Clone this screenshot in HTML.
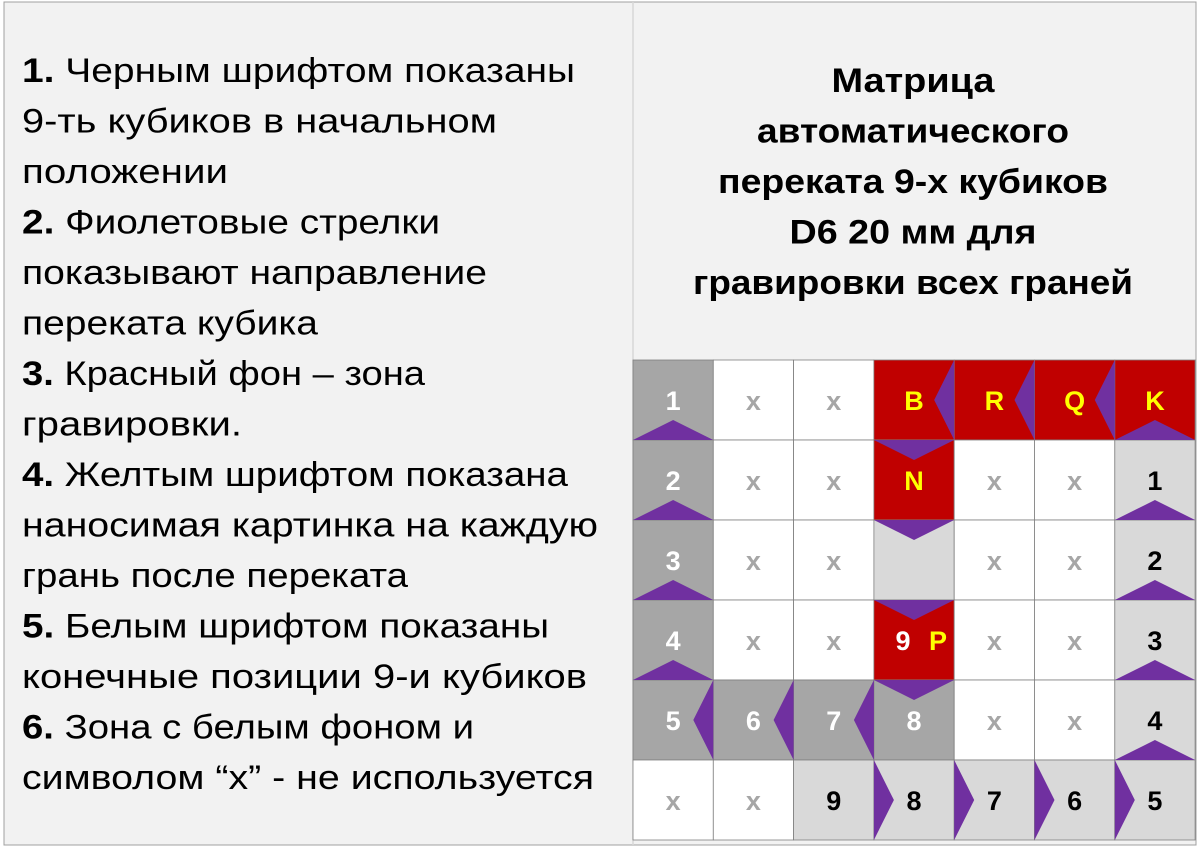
<!DOCTYPE html>
<html><head><meta charset="utf-8">
<style>
html,body{margin:0;padding:0;background:#fff;}
svg{display:block;}
text{font-family:"Liberation Sans",sans-serif;}
</style></head>
<body>
<svg width="1200" height="849" viewBox="0 0 1200 849" xmlns="http://www.w3.org/2000/svg">
<rect x="0" y="0" width="1200" height="849" fill="#ffffff"/>
<rect x="4" y="2" width="1192" height="843" fill="#f2f2f2" stroke="#a0a0a0" stroke-width="1"/>
<line x1="633" y1="2" x2="633" y2="845" stroke="#d8d8d8" stroke-width="1.5"/>
<g id="legend" font-size="34" fill="#000"></g>
<g id="title" font-size="34" font-weight="bold" fill="#000" text-anchor="middle"></g>
<g id="grid"></g>
</svg>
<script>
const NS="http://www.w3.org/2000/svg";
const legendLines=[["1.","Черным шрифтом показаны",575],["","9-ть  кубиков в начальном",497],["","положении",228],["2.","Фиолетовые стрелки",440],["","показывают направление",487],["","переката кубика",318],["3.","Красный фон – зона",425],["","гравировки.",242],["4.","Желтым шрифтом показана",568],["","наносимая картинка на каждую",598],["","грань после переката",408],["5.","Белым шрифтом показаны",549],["","конечные позиции 9-и кубиков",587],["6.","Зона с белым фоном и",474],["","символом “x” - не используется",594]];
const titleLines=[["Матрица",163],["автоматического",312],["переката 9-х кубиков",390],["D6 20 мм для",247],["гравировки всех граней",440]];
const cellFill=[["d","w","w","r","r","r","r"],["d","w","w","r","w","w","l"],["d","w","w","l","w","w","l"],["d","w","w","r","w","w","l"],["d","d","d","d","w","w","l"],["w","w","l","l","l","l","l"]];
const cellText=[["1","x","x","B","R","Q","K"],["2","x","x","N","x","x","1"],["3","x","x","","x","x","2"],["4","x","x","9P","x","x","3"],["5","6","7","8","x","x","4"],["x","x","9","8","7","6","5"]];
const arrows=[[0,0,"u"],[1,0,"u"],[2,0,"u"],[3,0,"u"],[0,6,"u"],[1,6,"u"],[2,6,"u"],[3,6,"u"],[4,6,"u"],[0,3,"l"],[0,4,"l"],[0,5,"l"],[4,0,"l"],[4,1,"l"],[4,2,"l"],[1,3,"d"],[2,3,"d"],[3,3,"d"],[4,3,"d"],[5,3,"r"],[5,4,"r"],[5,5,"r"],[5,6,"r"]];
const X0=633,Y0=360,CW=80.3,CH=80;
const fills={d:"#a6a6a6",l:"#d9d9d9",w:"#ffffff",r:"#c00000"};
const leg=document.getElementById('legend');
legendLines.forEach((ln,i)=>{
  const t=document.createElementNS(NS,'text');
  
  
  t.setAttribute('x',22);t.setAttribute('y',82+i*50.5);
  t.setAttribute('textLength',ln[2]-22);t.setAttribute('lengthAdjust','spacingAndGlyphs');
  if(ln[0]){const b=document.createElementNS(NS,'tspan');b.setAttribute('font-weight','bold');b.textContent=ln[0]+' ';t.appendChild(b);}
  t.appendChild(document.createTextNode(ln[1]));
  leg.appendChild(t);
});
const tg=document.getElementById('title');
titleLines.forEach((ln,i)=>{
  const t=document.createElementNS(NS,'text');
  
  
  t.setAttribute('x',913);t.setAttribute('y',92+i*50.5);
  t.setAttribute('textLength',ln[1]);t.setAttribute('lengthAdjust','spacingAndGlyphs');
  t.textContent=ln[0];tg.appendChild(t);
});
const g=document.getElementById('grid');
function mk(tag,attrs){const e=document.createElementNS(NS,tag);for(const k in attrs)e.setAttribute(k,attrs[k]);g.appendChild(e);return e;}
cellFill.forEach((row,r)=>row.forEach((f,c)=>{
  const x=X0+c*CW,y=Y0+r*CH;
  const rc=mk('rect',{x:x,y:y,width:CW,height:CH,fill:fills[f],stroke:"#7f7f7f","stroke-width":0.8});
  
  
}));
arrows.forEach(([r,c,d])=>{
  const x=X0+c*CW,y=Y0+r*CH;let p;
  if(d==="u")p=[[x,y+CH],[x+CW,y+CH],[x+CW/2,y+CH-20]];
  if(d==="d")p=[[x,y],[x+CW,y],[x+CW/2,y+20]];
  if(d==="l")p=[[x+CW,y],[x+CW,y+CH],[x+CW-20,y+CH/2]];
  if(d==="r")p=[[x,y],[x,y+CH],[x+20,y+CH/2]];
  const pg=mk('polygon',{points:p.map(q=>q.join(',')).join(' '),fill:"#7030a0"});
  
  
});
cellText.forEach((row,r)=>row.forEach((s,c)=>{
  if(!s)return;
  const cx=X0+c*CW+CW/2,cy=Y0+r*CH+CH/2+10;
  const f=cellFill[r][c];
  function addT(str,x,col){
    const t=mk('text',{x:x,y:cy,"text-anchor":"middle","font-size":27,"font-weight":"bold",fill:col});
    
    
    t.textContent=str;
  }
  if(s==="9P"){addT("9",cx-11,"#ffffff");addT("P",cx+24,"#ffff00");return;}
  let col;
  if(s==="x")col="#a6a6a6";
  else if(f==="r")col="#ffff00";
  else if(f==="d")col="#ffffff";
  else col="#000000";
  addT(s,cx,col);
}));
</script>
</body></html>
